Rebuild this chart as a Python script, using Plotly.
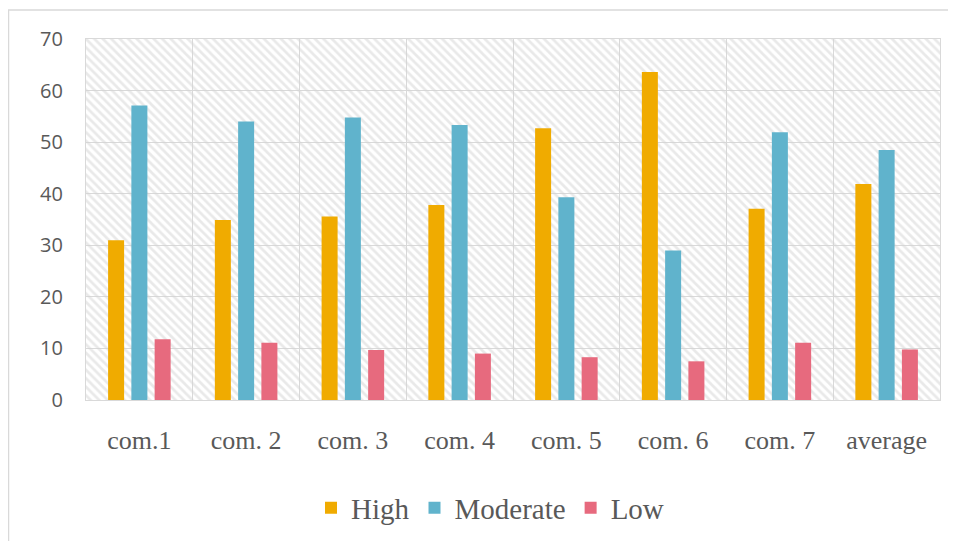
import plotly.graph_objects as go

categories = ["com.1", "com. 2", "com. 3", "com. 4", "com. 5", "com. 6", "com. 7", "average"]
high = [31.0, 34.9, 35.6, 37.8, 52.7, 63.6, 37.1, 41.9]
moderate = [57.1, 54.0, 54.8, 53.3, 39.3, 29.0, 51.9, 48.5]
low = [11.8, 11.1, 9.7, 9.0, 8.3, 7.5, 11.1, 9.8]
y_max = 70

OFF = 8  # page body margin
W, H = 956 - OFF, 541 - OFF
L, T = 86 - OFF, 39 - OFF
R = W - (940 - OFF)
B = H - (400 - OFF)
pw, ph = W - L - R, H - T - B

def px_x(p):
    return (p - OFF - L) / pw

def px_y(p):
    return (H - B - (p - OFF)) / ph

SERIF = "Liberation Serif, Times New Roman, serif"

fig = go.Figure()

# hatched background
fig.add_trace(go.Bar(
    x=categories, y=[y_max] * len(categories), width=1.0,
    marker=dict(color="rgba(0,0,0,0)", line=dict(width=0),
                pattern=dict(shape="\\", fgcolor="#d4d4d4", bgcolor="rgba(0,0,0,0)",
                             size=6, solidity=0.45)),
    showlegend=False, hoverinfo="skip",
))

bw = 0.15
step = 0.218
series = [("High", high, "#f0ab00", -step), ("Moderate", moderate, "#60b3cc", 0.0), ("Low", low, "#e76a7e", step)]
for name, vals, col, c in series:
    fig.add_trace(go.Bar(
        x=categories, y=vals, name=name, width=bw, offset=c - bw / 2,
        marker=dict(color=col, line=dict(width=0)),
    ))

fig.update_layout(
    width=W, height=H,
    margin=dict(l=L, r=R, t=T, b=B, autoexpand=False),
    barmode="overlay",
    paper_bgcolor="white", plot_bgcolor="white",
    font=dict(family=SERIF, color="#595959"),
    showlegend=True,
    legend=dict(orientation="h", x=px_x(490), xanchor="center", y=px_y(508), yanchor="middle",
                font=dict(family=SERIF, size=29, color="#595959"),
                traceorder="normal", itemwidth=30),
    shapes=[dict(type="rect", xref="paper", yref="paper",
                 x0=px_x(8.5), x1=px_x(1000), y0=px_y(10), y1=px_y(600),
                 line=dict(color="#d9d9d9", width=1.5), fillcolor="rgba(0,0,0,0)", layer="below")],
)

fig.update_xaxes(
    type="category", range=[-0.5, 7.5], tickson="boundaries",
    showgrid=True, gridcolor="#d9d9d9", gridwidth=1.3,
    showline=True, linecolor="#d9d9d9", linewidth=1.3, mirror=True,
    ticks="", ticklabelstandoff=17,
    tickfont=dict(family=SERIF, size=26, color="#595959"),
)
fig.update_yaxes(
    range=[0, y_max], dtick=10, tick0=0,
    showgrid=True, gridcolor="#d9d9d9", gridwidth=1.3,
    zeroline=True, zerolinecolor="#d9d9d9", zerolinewidth=1.3,
    showline=True, linecolor="#d9d9d9", linewidth=1.3, mirror=True,
    ticks="", ticklabelstandoff=18,
    tickfont=dict(family="Open Sans", size=20, color="#595959"),
)

fig.write_html("out.html")
